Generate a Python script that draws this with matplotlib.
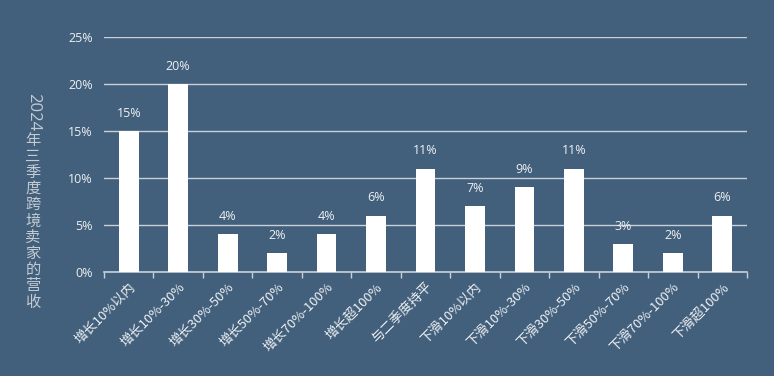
import matplotlib
matplotlib.use("Agg")
import matplotlib.pyplot as plt
import numpy as np

plt.rcParams['font.family'] = ['Noto Sans CJK SC', 'DejaVu Sans']

categories = ['增长10%以内', '增长10%-30%', '增长30%-50%', '增长50%-70%', '增长70%-100%',
              '增长超100%', '与二季度持平', '下滑10%以内', '下滑10%-30%', '下滑30%-50%',
              '下滑50%-70%', '下滑70%-100%', '下滑超100%']
values = [15, 20, 4, 2, 4, 6, 11, 7, 9, 11, 3, 2, 6]
yticks = [0, 5, 10, 15, 20, 25]
ylabel_year = '2024'
ylabel_rest = '年三季度跨境卖家的营收'

bg = '#42607c'
txt = '#eef0f2'
W, H = 774, 376

fig = plt.figure(figsize=(W / 100, H / 100), dpi=100, facecolor=bg)
ax = fig.add_axes([104 / W, 1 - 272 / H, (747 - 104) / W, (272 - 37) / H])
ax.set_facecolor(bg)

x = np.arange(len(categories))
ax.bar(x, values, width=0.4, color='white', zorder=3)
for xi, v in zip(x, values):
    ax.text(xi, v + 1.2, '{0}%'.format(v), ha='center', va='bottom',
            color=txt, fontsize=9, family=['Open Sans', 'DejaVu Sans'])

ax.set_xlim(-0.5, len(categories) - 0.5)
ax.set_ylim(0, 25)
ax.set_yticks(yticks)
ax.set_yticklabels(['{0}%'.format(t) for t in yticks], color=txt, fontsize=9,
                   family=['Open Sans', 'DejaVu Sans'])
ax.yaxis.grid(True, color='#c9d0d8', linewidth=1, zorder=0)
ax.tick_params(axis='y', length=0, pad=8)

ax.set_xticks(x)
ax.set_xticklabels(categories, rotation=45, ha='right', rotation_mode='anchor',
                   color=txt, fontsize=9.5)
ax.tick_params(axis='x', which='major', length=0, pad=6)
ax.set_xticks(np.arange(-0.5, len(categories), 1), minor=True)
ax.tick_params(axis='x', which='minor', length=4, color='#c9d0d8', width=1)

for s in ['top', 'right', 'left']:
    ax.spines[s].set_visible(False)
ax.spines['bottom'].set_color('#c9d0d8')
ax.spines['bottom'].set_linewidth(1.2)

# vertical y-axis title: digits rotated, CJK characters upright
lab_col = '#c3cad2'
fig.text(33 / W, 1 - 112 / H, ylabel_year, rotation=270, ha='center', va='center',
         color=lab_col, fontsize=12, family=['Open Sans', 'DejaVu Sans'])
for i, ch in enumerate(ylabel_rest):
    fig.text(33 / W, 1 - (140 + i * 16.2) / H, ch, ha='center', va='center',
             color=lab_col, fontsize=11)

fig.savefig('out.png', dpi=100, facecolor=bg)
